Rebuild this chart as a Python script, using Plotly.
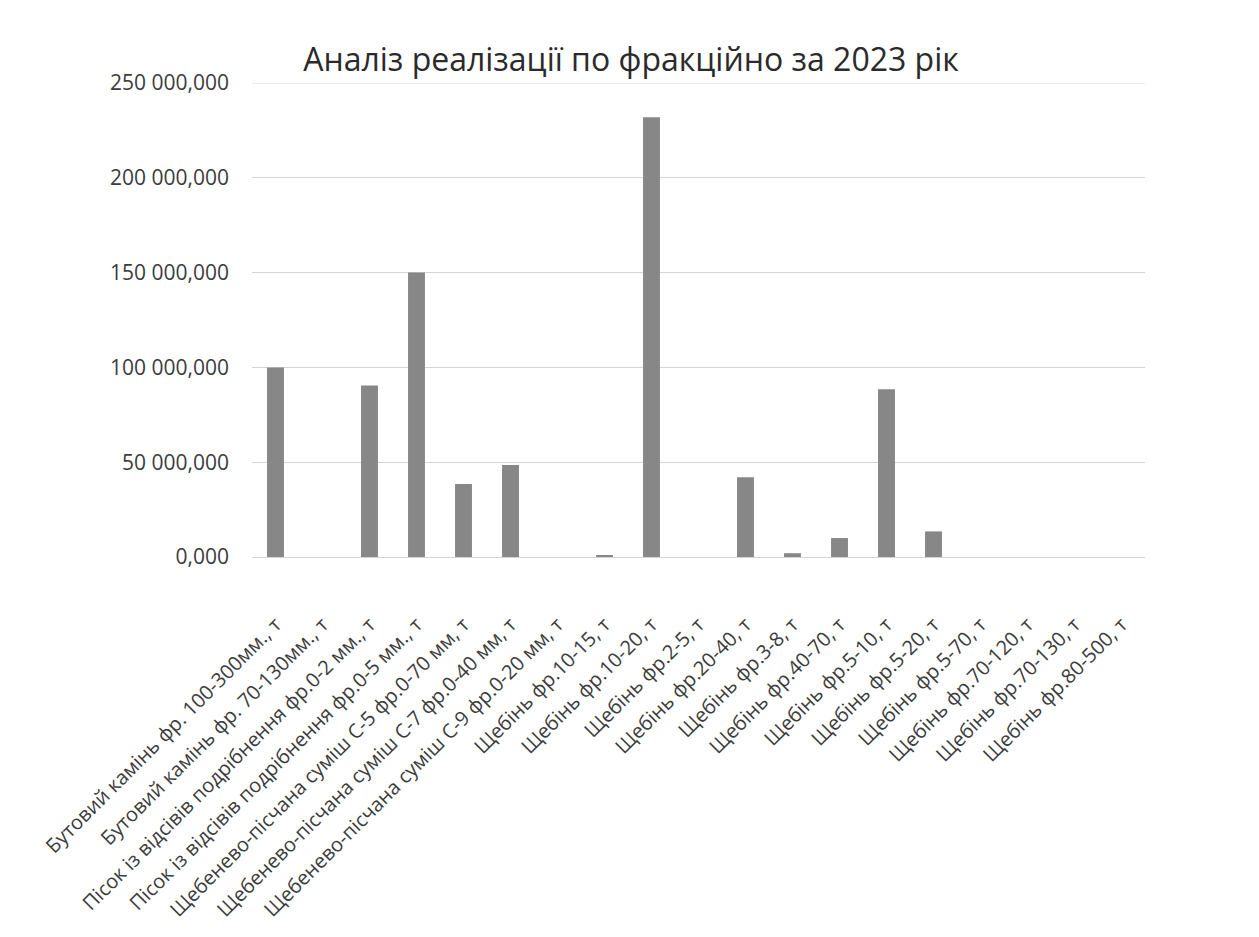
import plotly.graph_objects as go

title = "Аналіз реалізації по фракційно за 2023 рік"

categories = [
    "Бутовий камінь фр. 100-300мм., т",
    "Бутовий камінь фр. 70-130мм., т",
    "Пісок із відсівів подрібнення фр.0-2 мм., т",
    "Пісок із відсівів подрібнення фр.0-5 мм., т",
    "Щебенево-пісчана суміш С-5 фр.0-70 мм, т",
    "Щебенево-пісчана суміш С-7 фр.0-40 мм, т",
    "Щебенево-пісчана суміш С-9 фр.0-20 мм, т",
    "Щебінь фр.10-15, т",
    "Щебінь фр.10-20, т",
    "Щебінь фр.2-5, т",
    "Щебінь фр.20-40, т",
    "Щебінь фр.3-8, т",
    "Щебінь фр.40-70, т",
    "Щебінь фр.5-10, т",
    "Щебінь фр.5-20, т",
    "Щебінь фр.5-70, т",
    "Щебінь фр.70-120, т",
    "Щебінь фр.70-130, т",
    "Щебінь фр.80-500, т",
]

values = [
    100_000, 0, 90_500, 150_000, 38_500, 48_500, 0,
    800, 232_000, 0, 42_000, 2_000, 10_000,
    88_500, 13_500, 0, 0, 0, 0,
]

y_ticks = [0, 50_000, 100_000, 150_000, 200_000, 250_000]

FONT = "Open Sans"
TXT = "#3c3c3c"
GRID = "#d4d4d4"

W, H = 1243, 921
L, T, PW, PH = 244, 75, 893, 474

fig = go.Figure(
    go.Bar(
        x=categories,
        y=values,
        marker=dict(color="#878787", line=dict(width=0)),
    )
)

fig.update_layout(
    width=W,
    height=H,
    margin=dict(l=L, r=W - L - PW, t=T, b=H - T - PH, autoexpand=False),
    paper_bgcolor="white",
    plot_bgcolor="white",
    separators=", ",
    bargap=0.64,
    showlegend=False,
    title=dict(
        text=title,
        x=(631 - 8) / W,
        xanchor="center",
        xref="container",
        y=1 - 52 / H,
        yanchor="middle",
        yref="container",
        font=dict(family=FONT, size=32, color="#2a2a2a"),
    ),
    font=dict(family=FONT, color=TXT),
)

# top gridline (plotly omits the gridline lying on the plot edge)
fig.add_shape(
    type="line", xref="paper", yref="y",
    x0=0, x1=1, y0=y_ticks[-1], y1=y_ticks[-1],
    line=dict(color=GRID, width=1), layer="below",
)

fig.update_yaxes(
    range=[0, y_ticks[-1]],
    tickvals=y_ticks,
    tickformat=",.3f",
    showgrid=True,
    gridcolor=GRID,
    gridwidth=1,
    zeroline=False,
    showline=False,
    ticks="",
    tickfont=dict(family=FONT, size=21, color=TXT),
    ticklabelstandoff=22,
)

fig.update_xaxes(
    tickangle=-45,
    showgrid=False,
    showline=True,
    linecolor=GRID,
    linewidth=1,
    ticks="",
    tickfont=dict(family=FONT, size=20, color=TXT),
    ticklabelstandoff=47,
)

fig.write_html("out.html")
